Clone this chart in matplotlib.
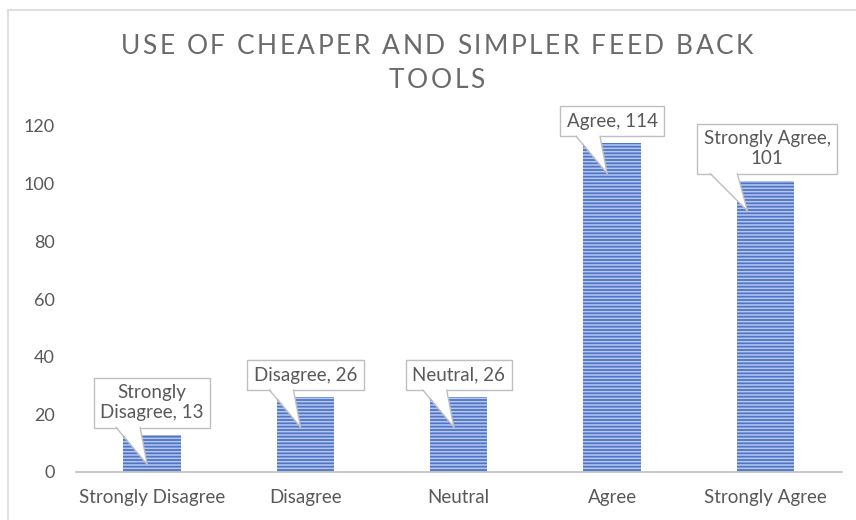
import matplotlib
matplotlib.use("Agg")
import matplotlib.pyplot as plt
from matplotlib.patches import Polygon, Rectangle
from matplotlib.lines import Line2D
from matplotlib.font_manager import FontProperties
from matplotlib.textpath import TextToPath
import matplotlib.transforms as mtransforms

categories = ["Strongly Disagree", "Disagree", "Neutral", "Agree", "Strongly Agree"]
counts = [13, 26, 26, 114, 101]
callout_texts = ["Strongly\nDisagree, 13", "Disagree, 26", "Neutral, 26",
                 "Agree, 114", "Strongly Agree,\n101"]
yticks = [0, 20, 40, 60, 80, 100, 120]
title_lines = ["USE OF CHEAPER AND SIMPLER FEED BACK", "TOOLS"]

W, H, DPI = 856, 520, 100
TEXT_GREY = "#595959"
FONT = ["Lato", "DejaVu Sans"]

fig = plt.figure(figsize=(W / DPI, H / DPI), dpi=DPI)
fig.patch.set_facecolor("white")

# outer chart-area frame
fig.patches.append(Rectangle((8 / W, -0.05), 1.2, (H - 10) / H + 0.05,
                             transform=fig.transFigure, fill=False,
                             edgecolor="#d9d9d9", linewidth=1.2, zorder=0))

ax_left, ax_right = 75.5 / W, 842 / W
ax_bottom, ax_top = (H - 472) / H, (H - 126) / H
ax = fig.add_axes([ax_left, ax_bottom, ax_right - ax_left, ax_top - ax_bottom])
ax.set_facecolor("none")

x = list(range(len(categories)))
plt.rcParams["hatch.linewidth"] = 1.1
bars = ax.bar(x, counts, width=0.375, color="#4f74c9", edgecolor="#b7c8ee",
              linewidth=0, hatch="-----", zorder=2)

ax.set_xlim(-0.5, len(categories) - 0.5)
ax.set_ylim(0, 120)
ax.set_yticks(yticks)
ax.set_yticklabels([str(t) for t in yticks])
ax.set_xticks(x)
ax.set_xticklabels(categories)
ax.tick_params(axis="both", length=0, labelcolor=TEXT_GREY)
ax.tick_params(axis="x", pad=12, labelsize=13.5)
ax.tick_params(axis="y", pad=15, labelsize=13)
for lbl in ax.get_xticklabels() + ax.get_yticklabels():
    lbl.set_fontfamily(FONT)
for side in ("left", "right", "top"):
    ax.spines[side].set_visible(False)
ax.spines["bottom"].set_color("#bfbfbf")
ax.spines["bottom"].set_linewidth(1.2)

# callout labels: box sits a few pixels above the bar, pointer dips into the bar
GAP = 7          # px between bar top and box bottom
PAD_PX = 6.5     # box padding in px
FS = 13.5
for xi, v, txt in zip(x, counts, callout_texts):
    wide = "\n" in txt and "Agree," in txt
    ax.annotate(txt, xy=(xi, v), xytext=(2 if wide else 0, GAP + PAD_PX),
                textcoords="offset pixels", ha="center", va="bottom",
                fontsize=FS, color=TEXT_GREY, fontfamily=FONT,
                linespacing=1.2, zorder=6,
                bbox=dict(boxstyle=f"square,pad={PAD_PX * 72 / DPI / FS:.3f}",
                          fc="white", ec="#bfbfbf", lw=1.0))
    if wide:
        base_l, base_r, tip_x = -55, -28, -18
    else:
        base_l, base_r, tip_x = -36, -12, -5
    tip_y = -30
    trans = mtransforms.Affine2D() + mtransforms.ScaledTranslation(xi, v, ax.transData)
    ax.add_patch(Polygon([(base_l, GAP + 1.5), (base_r, GAP + 1.5), (tip_x, tip_y)],
                         closed=True, transform=trans, facecolor="white",
                         edgecolor="none", zorder=7, clip_on=False))
    for bx in (base_l, base_r):
        ax.add_line(Line2D([bx, tip_x], [GAP, tip_y], transform=trans,
                           color="#bfbfbf", lw=1.0, zorder=8, clip_on=False))

# letter-spaced title, laid out one character at a time
TITLE_FS = 19
title_prop = FontProperties(family=FONT, size=TITLE_FS)
t2p = TextToPath()


def advance_px(ch):
    w_pair = t2p.get_text_width_height_descent("HH", title_prop, ismath=False)[0]
    w_trip = t2p.get_text_width_height_descent("H" + ch + "H", title_prop, ismath=False)[0]
    return (w_trip - w_pair) * DPI / 72


title_cx = 437
first_width = 633
adv0 = [advance_px(c) for c in title_lines[0]]
tracking = (first_width - sum(adv0)) / (len(adv0) - 1)
for line, cy in zip(title_lines, (47, 81)):
    advs = [advance_px(c) for c in line]
    total = sum(advs) + tracking * (len(line) - 1)
    px = title_cx - total / 2
    for ch, a in zip(line, advs):
        if ch != " ":
            fig.text(px / W, 1 - cy / H, ch, ha="left", va="center",
                     fontproperties=title_prop, color="#6a6a6a")
        px += a + tracking

fig.savefig("out.png", dpi=DPI, facecolor="white")
